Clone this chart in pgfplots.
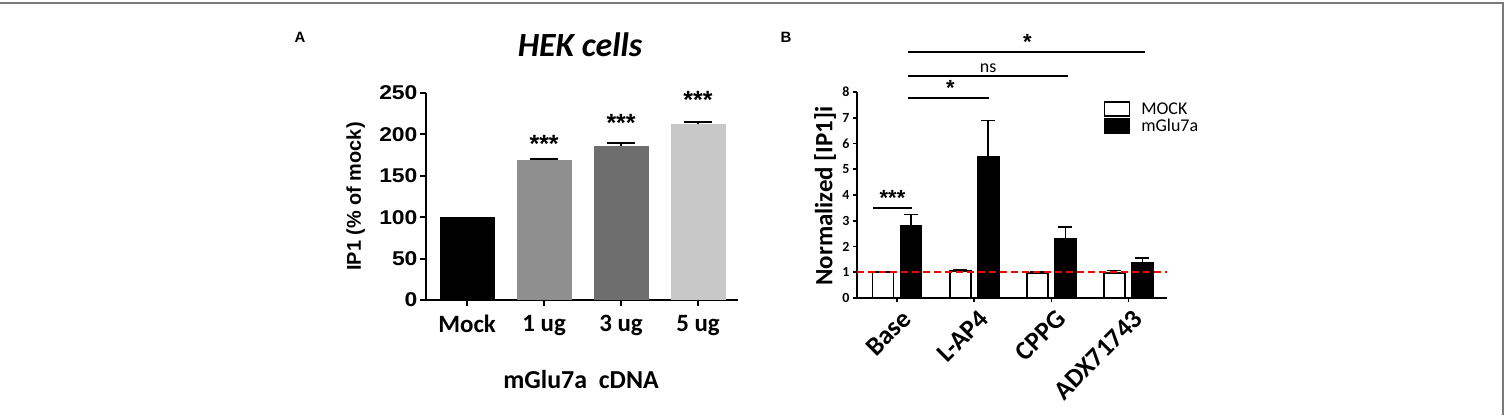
\documentclass[border=0pt]{standalone}
\usepackage{fontspec}
\setmainfont{Liberation Sans}
\newfontfamily\carl{Carlito}
\newfontfamily\wide[FakeStretch=1.15]{Liberation Sans}
\usepackage{pgfplots}
\pgfplotsset{compat=1.18}
\definecolor{g1}{HTML}{8F8F8F}
\definecolor{g3}{HTML}{6E6E6E}
\definecolor{g5}{HTML}{C8C8C8}
\definecolor{frm}{HTML}{7A7A7A}
\begin{document}
\begin{tikzpicture}[x=1bp,y=1bp]
\path[use as bounding box] (0,0) rectangle (1510,415);
\draw[frm, line width=2bp] (0,412) -- (1503,412) -- (1503,0);
% panel letters and titles
\node[font=\bfseries\fontsize{15}{15}\selectfont] at (300,378) {A};
\node[font=\bfseries\fontsize{15}{15}\selectfont] at (786,378) {B};
\node[font=\carl\bfseries\itshape\fontsize{34}{34}\selectfont] at (580,370) {HEK cells};

\begin{axis}[
  at={(426bp,115bp)}, anchor=south west, scale only axis,
  width=312bp, height=207bp,
  xmin=-0.535, xmax=3.52, ymin=0, ymax=250,
  axis x line=bottom, axis y line=left,
  axis line style={line width=2.2bp, -},
  ytick={0,50,...,250}, xtick={0,1,2,3},
  xticklabels={Mock,1 ug,3 ug,5 ug},
  tick style={black, line width=2.2bp}, major tick length=6bp, tick align=outside,
  /pgf/number format/assume math mode=true,
  yticklabel style={font=\wide\bfseries\fontsize{20}{20}\selectfont, xshift=1bp},
  xticklabel style={font=\carl\bfseries\fontsize{25}{25}\selectfont, yshift=-6bp},
  ylabel={IP1 (\% of mock)},
  every axis y label/.style={at={(axis description cs:-0.225,0.5)}, rotate=90, anchor=center,
     font=\bfseries\fontsize{20}{20}\selectfont},
  ybar, bar width=55bp, bar shift=0bp,
  clip=false,
  error bars/y dir=plus, error bars/y explicit,
  error bars/error bar style={line width=2bp, black},
  error bars/error mark options={rotate=90, mark size=14bp, line width=2bp, black},
]
\addplot[fill=black, draw=none] coordinates {(0,100)};
\addplot[fill=g1, draw=none] coordinates {(1,169) +- (0,1)};
\addplot[fill=g3, draw=none] coordinates {(2,186) +- (0,4)};
\addplot[fill=g5, draw=none] coordinates {(3,213) +- (0,2.5)};
\node[font=\bfseries\fontsize{25}{25}\selectfont] at (axis cs:1,188) {***};
\node[font=\bfseries\fontsize{25}{25}\selectfont] at (axis cs:2,214) {***};
\node[font=\bfseries\fontsize{25}{25}\selectfont] at (axis cs:3,242) {***};
\node[font=\carl\bfseries\fontsize{26}{26}\selectfont] at (axis description cs:0.497,-0.386) {mGlu7a\ \ cDNA};
\end{axis}

\begin{axis}[
  at={(857bp,117bp)}, anchor=south west, scale only axis,
  width=310bp, height=206bp,
  xmin=-0.52, xmax=3.5, ymin=0, ymax=8,
  axis x line=bottom, axis y line=left,
  axis line style={line width=1.6bp, -},
  ytick={0,1,...,8}, xtick={0,1,2,3},
  xticklabels={Base,L-AP4,CPPG,ADX71743},
  tick style={black, line width=1.6bp}, major tick length=4bp, tick align=outside,
  /pgf/number format/assume math mode=true,
  yticklabel style={font=\carl\bfseries\fontsize{14}{14}\selectfont},
  xticklabel style={font=\carl\bfseries\fontsize{26.5}{26.5}\selectfont, rotate=45, anchor=north east, inner sep=1bp, yshift=-6bp, xshift=-1bp},
  ylabel={Normalized [IP1]i},
  every axis y label/.style={at={(axis description cs:-0.103,0.495)}, rotate=90, anchor=center,
     font=\carl\bfseries\fontsize{25}{25}\selectfont},
  ybar, bar width=21bp,
  clip=false,
  error bars/y dir=plus, error bars/y explicit,
  error bars/error bar style={line width=1.6bp, black},
  error bars/error mark options={rotate=90, mark size=7bp, line width=1.6bp, black},
  legend image code/.code={\draw[#1, line width=1.6bp] (0bp,-7bp) rectangle (25bp,7bp);},
  legend style={draw=none, fill=none, at={(rel axis cs:0.795,0.955)}, anchor=north west,
    font=\carl\fontsize{18}{18}\selectfont, row sep=1bp, inner sep=0bp,
    nodes={inner sep=1bp}, /tikz/every odd column/.append style={column sep=10bp}},
  legend cell align=left,
]
\addplot[fill=white, draw=black, line width=1.6bp, bar shift=-14bp] coordinates {
  (0,1.0) +- (0,0.0)
  (1,1.05) +- (0,0.05)
  (2,0.97) +- (0,0.04)
  (3,0.97) +- (0,0.1)
};
\addplot[fill=black, draw=black, line width=1.6bp, bar shift=14bp] coordinates {
  (0,2.8) +- (0,0.45)
  (1,5.5) +- (0,1.4)
  (2,2.3) +- (0,0.45)
  (3,1.35) +- (0,0.2)
};
\legend{MOCK,mGlu7a}
\addplot[sharp plot, red, line width=1.8bp, dash pattern=on 7bp off 4bp, forget plot, error bars/y dir=none, mark=none] coordinates {(-0.52,1) (3.5,1)};
% significance
\draw[line width=1.6bp] (axis cs:-0.31,3.5) -- (axis cs:0.195,3.5);
\node[font=\bfseries\fontsize{22}{22}\selectfont, anchor=south] at (axis cs:-0.06,3.45) {***};
\draw[line width=1.6bp] (axis cs:0.143,7.77) -- (axis cs:1.195,7.77);
\node[font=\bfseries\fontsize{22}{22}\selectfont, anchor=south] at (axis cs:0.69,7.72) {*};
\draw[line width=1.6bp] (axis cs:0.143,8.62) -- (axis cs:2.21,8.62);
\node[font=\carl\fontsize{18}{18}\selectfont, anchor=south] at (axis cs:1.18,8.6) {ns};
\draw[line width=2bp] (axis cs:0.143,9.55) -- (axis cs:3.21,9.55);
\node[font=\bfseries\fontsize{22}{22}\selectfont, anchor=south] at (axis cs:1.69,9.5) {*};
\end{axis}
\end{tikzpicture}
\end{document}
